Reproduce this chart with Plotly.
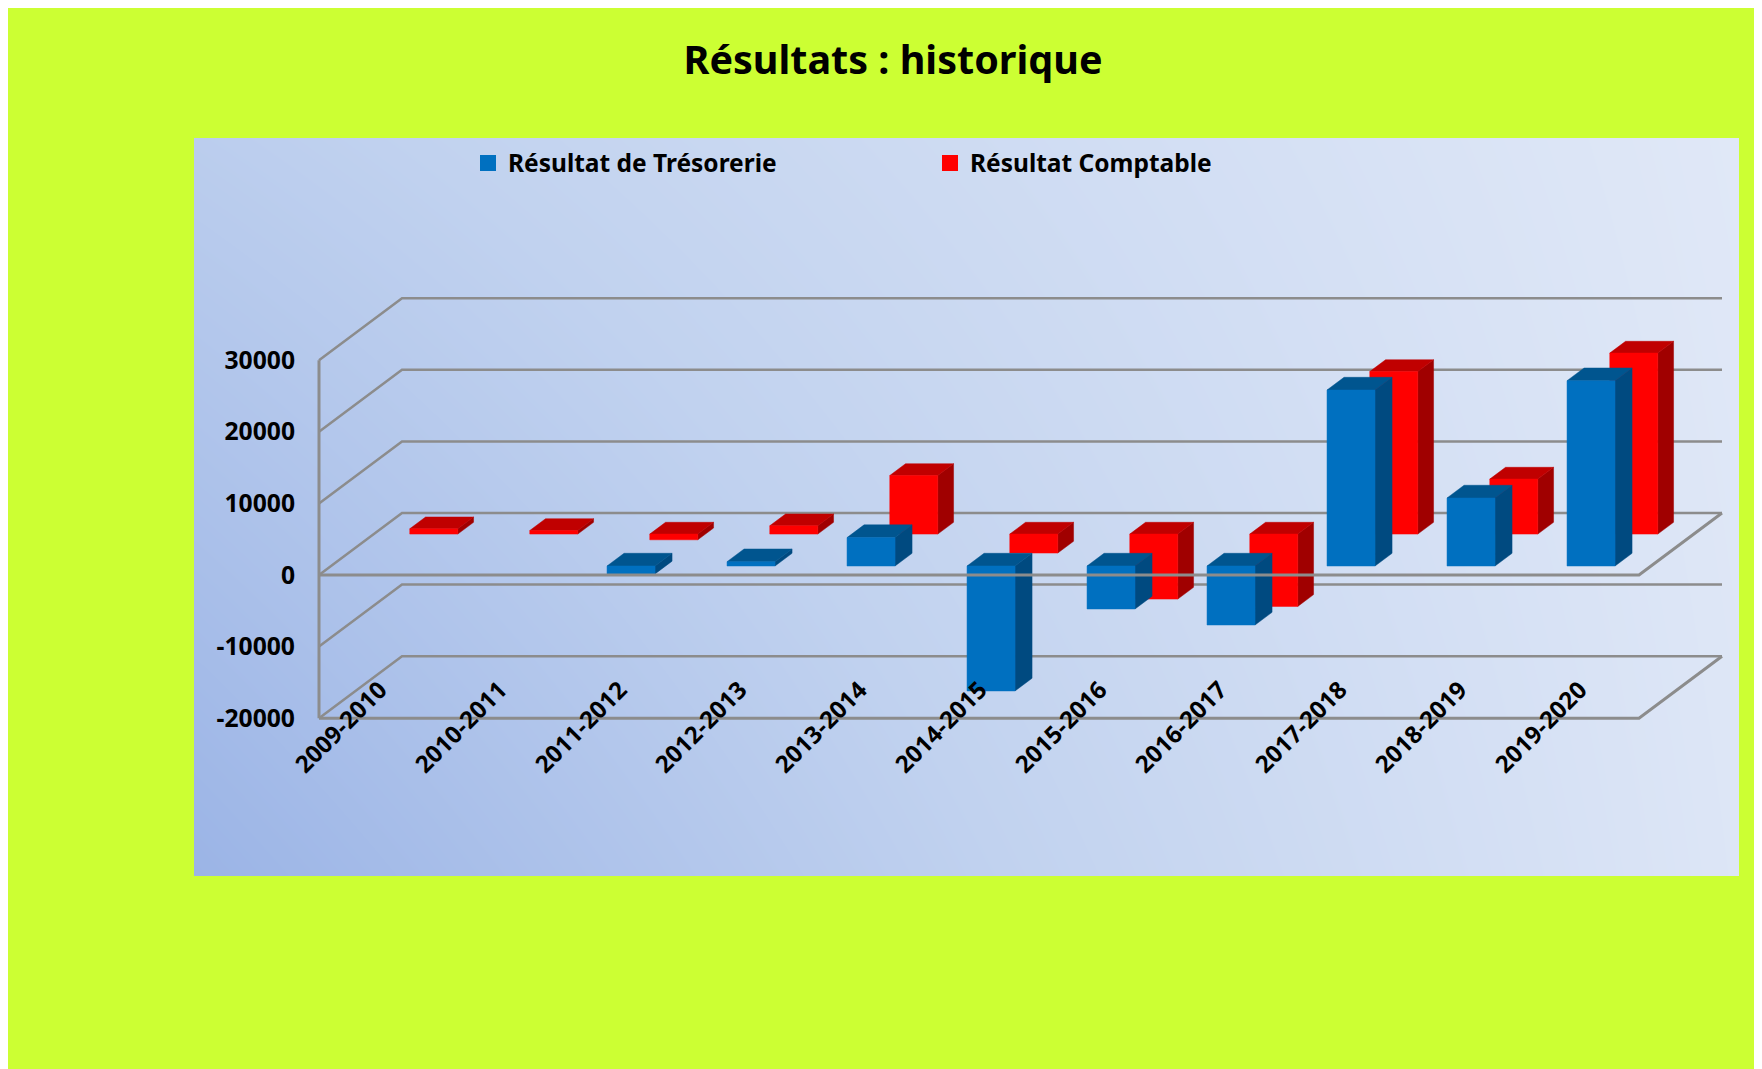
import plotly.graph_objects as go

# ---- data ----
categories = ["2009-2010", "2010-2011", "2011-2012", "2012-2013", "2013-2014", "2014-2015",
              "2015-2016", "2016-2017", "2017-2018", "2018-2019", "2019-2020"]
tresorerie = [0, 0, -1100, 600, 3970, -17450, -6000, -8240, 24580, 9500, 25880]
comptable = [740, 500, -800, 1160, 8180, -2650, -9080, -10100, 22700, 7680, 25280]
y_ticks = [-20000, -10000, 0, 10000, 20000, 30000]

# ---- oblique projection, in axis units ----
PX_X = 120.0          # pixels per category
PX_Y = 0.00716        # pixels per value unit
DX = 83 / PX_X        # full depth, horizontal
DY = 62 / PX_Y        # full depth, vertical
X_L, X_R = -0.5, 10.5
XMIN, XMAX = X_L - 125 / PX_X, X_L + 1420 / PX_X
YMIN, YMAX = -301 / PX_Y, 437 / PX_Y
BAR_W = 48 / PX_X


def project(x, v, d):
    return x + d * DX, v + d * DY


def faces(values, d0, d1):
    front, top, side = ([], []), ([], []), ([], [])
    for i, v in enumerate(values):
        if v == 0:
            continue
        hi, lo = max(v, 0), min(v, 0)
        xa, xb = i - BAR_W / 2, i + BAR_W / 2
        polys = [
            (front, [(xa, lo, d0), (xb, lo, d0), (xb, hi, d0), (xa, hi, d0)]),
            (top, [(xa, hi, d0), (xb, hi, d0), (xb, hi, d1), (xa, hi, d1)]),
            (side, [(xb, lo, d0), (xb, lo, d1), (xb, hi, d1), (xb, hi, d0)]),
        ]
        for store, pts in polys:
            pr = [project(*p) for p in pts]
            store[0].extend([p[0] for p in pr] + [pr[0][0], None])
            store[1].extend([p[1] for p in pr] + [pr[0][1], None])
    return front, top, side


def poly_trace(xy, color):
    return go.Scatter(x=xy[0], y=xy[1], mode="lines", fill="toself", fillcolor=color,
                      line=dict(color=color, width=0.5), hoverinfo="skip", showlegend=False)


fig = go.Figure()

# panel gradient
fig.add_trace(go.Heatmap(x=[XMIN, XMAX], y=[YMIN, YMAX], z=[[0.0, 0.95], [0.42, 1.0]],
                         zmin=0, zmax=1, zsmooth="best", showscale=False, hoverinfo="skip",
                         colorscale=[[0, "#9BB4E6"], [0.5, "#C1D2EF"], [1, "#E0E8F7"]]))

# walls
gx, gy = [], []
for t in y_ticks:
    a = project(X_L, t, 0)
    b = project(X_L, t, 1)
    c = project(X_R, t, 1)
    gx += [a[0], b[0], c[0], None]
    gy += [a[1], b[1], c[1], None]
fig.add_trace(go.Scatter(x=gx, y=gy, mode="lines", line=dict(color="#8C8C8C", width=2.5),
                         hoverinfo="skip", showlegend=False))

# bars: back row, then front row
for values, d0, d1, colors in [
    (comptable, 0.66, 0.85, ("#FF0000", "#C00000", "#A00000")),
    (tresorerie, 0.145, 0.35, ("#0070C0", "#00558F", "#004A80")),
]:
    f, t, s = faces(values, d0, d1)
    fig.add_trace(poly_trace(s, colors[2]))
    fig.add_trace(poly_trace(t, colors[1]))
    fig.add_trace(poly_trace(f, colors[0]))

# front edges of the wall and floors, above the bars
fx, fy = [X_L, X_L, None], [y_ticks[0], y_ticks[-1], None]
for t in [y_ticks[0], 0]:
    a = project(X_L, t, 0)
    b = project(X_R, t, 0)
    c = project(X_R, t, 1)
    fx += [a[0], b[0], c[0], None]
    fy += [a[1], b[1], c[1], None]
fig.add_trace(go.Scatter(x=fx, y=fy, mode="lines", line=dict(color="#8C8C8C", width=3),
                         hoverinfo="skip", showlegend=False))

# legend keys
fig.add_trace(go.Scatter(x=[None], y=[None], mode="markers", name="Résultat de Trésorerie",
                         marker=dict(symbol="square", size=17, color="#0070C0")))
fig.add_trace(go.Scatter(x=[None], y=[None], mode="markers", name="Résultat Comptable",
                         marker=dict(symbol="square", size=17, color="#FF0000")))

FONT = "Noto Sans"
fig.update_layout(
    width=1754, height=1061,
    margin=dict(l=186, r=23, t=130, b=193, pad=0),
    paper_bgcolor="#CCFF33", plot_bgcolor="#C3D4F0",
    font=dict(family=FONT, color="#000000"),
    title=dict(text="<b>Résultats : historique</b>", x=885 / 1754, xanchor="center",
               y=1 - 52 / 1061, yanchor="middle", font=dict(family=FONT, size=39.5, color="#000000")),
    legend=dict(orientation="h", x=(468 - 194) / 1545, xanchor="left", y=(876 - 163) / 738, yanchor="middle",
                bgcolor="rgba(0,0,0,0)", entrywidth=417, entrywidthmode="pixels",
                font=dict(family=FONT, size=24.5, weight=700, color="#000000")),
    xaxis=dict(range=[XMIN, XMAX], showgrid=False, zeroline=False, showline=False, ticks="",
               tickmode="array", tickvals=list(range(len(categories))), ticktext=categories,
               tickangle=-45, anchor="free", position=(876 - 670) / 738,
               ticklabelshift=1,
               tickfont=dict(family=FONT, size=24, weight=700, color="#000000")),
    yaxis=dict(range=[YMIN, YMAX], showgrid=False, zeroline=False, showline=False, ticks="",
               tickmode="array", tickvals=y_ticks, ticktext=[str(t) for t in y_ticks],
               anchor="free", position=(X_L - XMIN) / (XMAX - XMIN), ticklabelstandoff=24,
               tickfont=dict(family=FONT, size=24.7, weight=700, color="#000000")),
    showlegend=True,
)

fig.write_html("out.html", config=dict(displayModeBar=False))
